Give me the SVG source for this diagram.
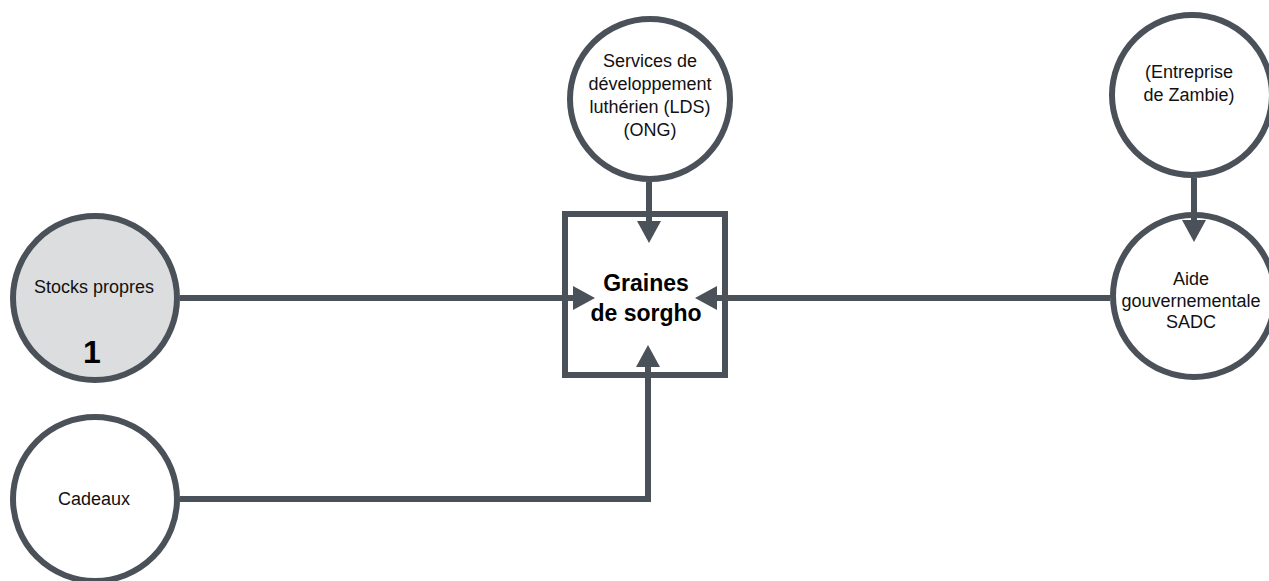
<svg xmlns="http://www.w3.org/2000/svg" width="1269" height="581" viewBox="0 0 1269 581">
<style>
.node{fill:#ffffff;stroke:#4b5159;stroke-width:6}
.box{fill:none;stroke:#4b5159;stroke-width:6}
.gray{fill:#dcdddf}
.lbl{font-family:"Liberation Sans",Arial,sans-serif;font-size:18px;fill:#111111;text-anchor:middle}
.bold{font-family:"Liberation Sans",Arial,sans-serif;font-weight:bold;fill:#000000;text-anchor:middle}
.conn{fill:none;stroke:#4b5159;stroke-width:6}
</style>
<defs>
<marker id="arr" markerUnits="userSpaceOnUse" viewBox="0 0 22 24" refX="1" refY="12" markerWidth="22" markerHeight="24" orient="auto">
<path d="M0,0 L22,12 L0,24 z" fill="#4b5159"/>
</marker>
</defs>
<rect width="1269" height="581" fill="#ffffff"/>
<g id="node-graines">
<rect class="box" x="565" y="214" width="160" height="161"/>
<text class="bold" x="646" y="291" font-size="23">Graines</text>
<text class="bold" x="646" y="321" font-size="23">de sorgho</text>
</g>
<g id="node-stocks">
<circle class="node gray" cx="95" cy="298" r="82"/>
<text class="lbl" x="94" y="293">Stocks propres</text>
<text class="bold" x="92" y="363" font-size="32">1</text>
</g>
<g id="node-cadeaux">
<circle class="node" cx="95" cy="499" r="82"/>
<text class="lbl" x="94" y="505">Cadeaux</text>
</g>
<g id="node-lds">
<circle class="node" cx="650" cy="99" r="80"/>
<text class="lbl" x="650" y="67">Services de</text>
<text class="lbl" x="650" y="90">développement</text>
<text class="lbl" x="650" y="113">luthérien (LDS)</text>
<text class="lbl" x="650" y="136">(ONG)</text>
</g>
<g id="node-entreprise">
<circle class="node" cx="1192" cy="95" r="80"/>
<text class="lbl" x="1189" y="78">(Entreprise</text>
<text class="lbl" x="1189" y="101">de Zambie)</text>
</g>
<g id="node-aide">
<circle class="node" cx="1194" cy="296" r="81"/>
<text class="lbl" x="1191" y="285">Aide</text>
<text class="lbl" x="1191" y="307">gouvernementale</text>
<text class="lbl" x="1191" y="328">SADC</text>
</g>
<g id="connectors">
<path class="conn" d="M180,298 H574" marker-end="url(#arr)"/>
<path class="conn" d="M1110,298 H716" marker-end="url(#arr)"/>
<path class="conn" d="M649,182 V222" marker-end="url(#arr)"/>
<path class="conn" d="M1194,178 V221" marker-end="url(#arr)"/>
<path class="conn" d="M180,499 H648 V366" marker-end="url(#arr)"/>
</g>
</svg>
